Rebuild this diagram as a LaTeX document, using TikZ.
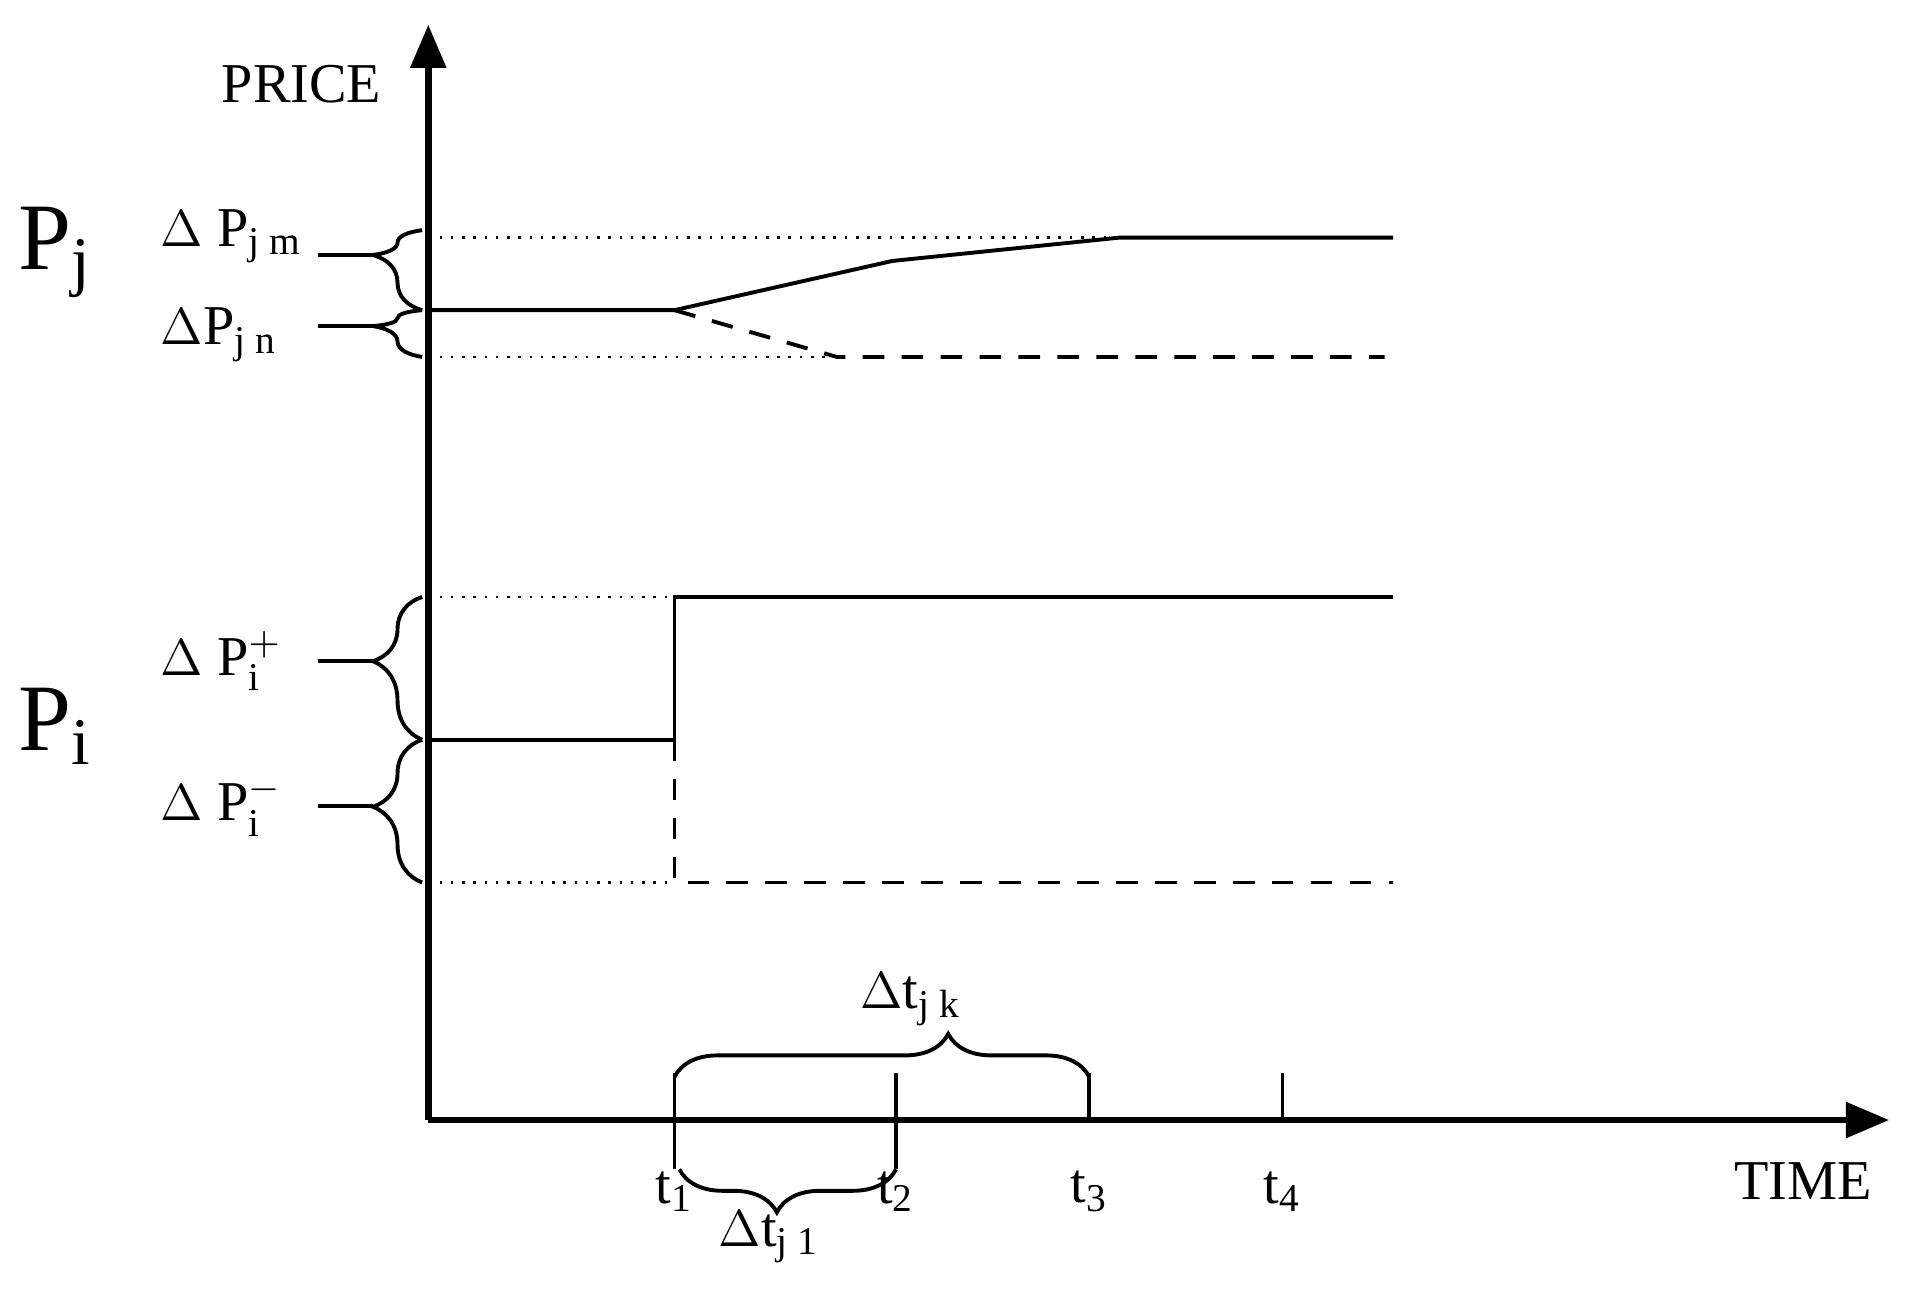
\documentclass[tikz,border=0pt]{standalone}
\usepackage{fontspec}
\setmainfont{Liberation Serif}
\usetikzlibrary{decorations.pathreplacing,arrows.meta}
\begin{document}
\begin{tikzpicture}[x=0.01cm,y=-0.01cm,
  ax/.style={line width=1.6pt,-{Triangle[length=10pt,width=8pt]}},
  sol/.style={line width=0.9pt},
  dsh/.style={line width=0.9pt,dash pattern=on 5pt off 4pt},
  dot/.style={line width=0.6pt,dotted},
  br/.style={decorate,decoration={brace,amplitude=#1},line width=0.9pt},
  br/.default=0.4cm,
  lbl/.style={font=\fontsize{13}{15}\selectfont,inner sep=0pt},
  big/.style={font=\fontsize{22}{24}\selectfont,inner sep=0pt}]
\useasboundingbox (0,0) rectangle (1560,1053);
\coordinate (O) at (348,910);
\coordinate (Ytop) at (348,20);
\coordinate (Xend) at (1535,910);
\draw[ax] (O) -- (Ytop);
\draw[ax] (O) -- (Xend);
% Pj
\draw[dot] (348,193) -- (910,193);
\draw[sol] (348,252) -- (548,252) -- (725,212) -- (910,193) -- (1132,193);
\draw[dsh] (548,252) -- (680,290) -- (1125,290);
\draw[dot] (348,290) -- (680,290);
% Pi
\draw[dot] (348,485) -- (548,485);
\draw[sol] (348,601) -- (548,601) -- (548,485) -- (1132,485);
\draw[dsh] (548,601) -- (548,717) -- (1132,717);
\draw[dot] (348,717) -- (548,717);
% braces left
\draw[br, decoration={aspect=0.69}] (343,252) -- (343,187);
\draw[br, decoration={aspect=0.66}] (343,290) -- (343,252);
\draw[br, decoration={aspect=0.55}] (343,601) -- (343,485);
\draw[br, decoration={aspect=0.53}] (343,717) -- (343,601);
\draw[sol] (258,207) -- (303,207);
\draw[sol] (258,265) -- (303,265);
\draw[sol] (258,537) -- (303,537);
\draw[sol] (258,655) -- (303,655);
% labels
\node[lbl] (price) at (245,68) {PRICE};
\node[big] (pj) at (45,205) {P\textsubscript{j}};
\node[big] (pi) at (45,590) {P\textsubscript{i}};
\node[lbl,anchor=west] (djm) at (130,192) {$\Delta$ P\textsubscript{j m}};
\node[lbl,anchor=west] (djn) at (130,272) {$\Delta$P\textsubscript{j n}};
\node[lbl,anchor=west] (dip) at (130,537) {$\Delta$ P$_{\mathrm i}^{+}$};
\node[lbl,anchor=west] (dim) at (130,655) {$\Delta$ P$_{\mathrm i}^{-}$};
% ticks
\draw[sol] (548,872) -- (548,950);
\draw[sol] (728,872) -- (728,950);
\draw[sol] (885,872) -- (885,910);
\draw[sol] (1042,872) -- (1042,910);
\draw[br=0.35cm, decoration={aspect=0.66}] (548,875) -- (885,875);
\draw[br=0.35cm, decoration={aspect=0.55}] (728,950) -- (552,950);
\node[lbl] (t1) at (548,968) {t\textsubscript{1}};
\node[lbl] (t2) at (728,968) {t\textsubscript{2}};
\node[lbl] (t3) at (885,968) {t\textsubscript{3}};
\node[lbl] (t4) at (1042,968) {t\textsubscript{4}};
\node[lbl] (time) at (1465,960) {TIME};
\node[lbl] (dtjk) at (740,812) {$\Delta$t\textsubscript{j k}};
\node[lbl] (dtj1) at (625,1005) {$\Delta$t\textsubscript{j 1}};
\end{tikzpicture}
\end{document}
